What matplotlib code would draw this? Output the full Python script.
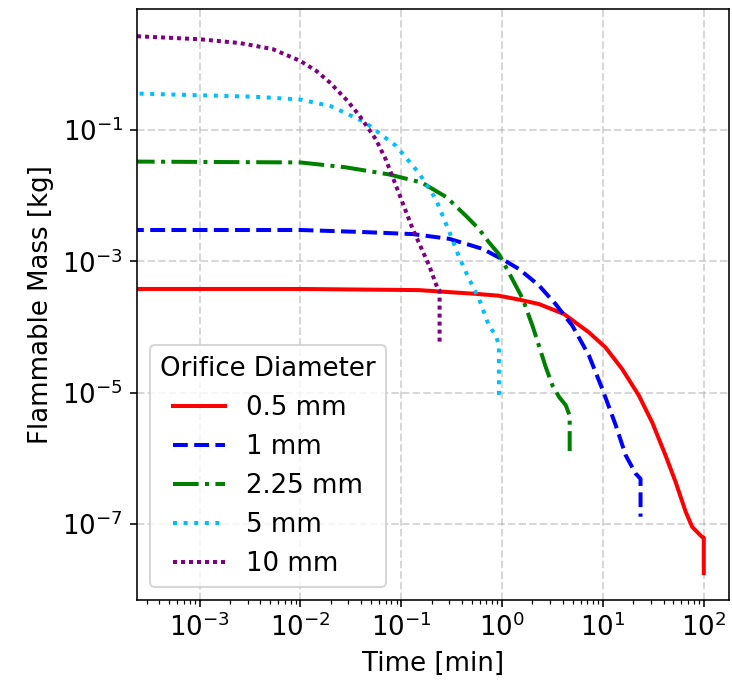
import numpy as np
import matplotlib
matplotlib.use("Agg")
import matplotlib.pyplot as plt
from matplotlib import ticker

# Flammable mass vs time for several orifice diameters
t_05 = [2e-4, 1e-2, 0.15, 0.55, 0.93, 1.5, 2.32, 4.11, 7.26, 10.6, 15.5, 22.7, 30.9, 41.7,
        52.5, 66.1, 76.7, 95.0, 100.0, 100.0]
m_05 = [3.8e-4, 3.8e-4, 3.65e-4, 3.2e-4, 3.0e-4, 2.6e-4, 2.24e-4, 1.58e-4, 8.3e-5, 4.9e-5,
        2.3e-5, 9.1e-6, 3.5e-6, 1.12e-6, 4.4e-7, 1.55e-7, 9.1e-8, 6.5e-8, 6.2e-8, 1.8e-8]

t_1 = [2e-4, 1e-2, 0.04, 0.13, 0.3, 0.64, 1.07, 1.48, 2.32, 3.39, 4.97, 7.26, 9.84, 13.4,
       16.8, 21.1, 23.6, 23.6]
m_1 = [3.0e-3, 3.0e-3, 2.8e-3, 2.6e-3, 2.2e-3, 1.55e-3, 1.02e-3, 7.6e-4, 4.3e-4, 2.24e-4,
       1.05e-4, 3.7e-5, 1.15e-5, 3.2e-6, 1.12e-6, 5.9e-7, 4.9e-7, 1.3e-7]

t_225 = [2e-4, 1e-2, 0.028, 0.076, 0.16, 0.28, 0.44, 0.59, 0.74, 0.93, 1.26, 1.6, 2.0,
         2.32, 2.7, 3.16, 3.7, 4.27, 4.68, 4.68]
m_225 = [0.033, 0.032, 0.027, 0.021, 0.0158, 0.0095, 4.9e-3, 3.1e-3, 1.95e-3, 1.29e-3,
         5.4e-4, 2.7e-4, 1.05e-4, 5.2e-5, 2.5e-5, 1.29e-5, 8.5e-6, 6.5e-6, 4.5e-6, 1.3e-6]

t_5 = [2e-4, 3.5e-3, 1e-2, 0.02, 0.044, 0.089, 0.15, 0.22, 0.30, 0.37, 0.47, 0.59, 0.74,
       0.87, 0.93, 0.93]
m_5 = [0.36, 0.32, 0.29, 0.23, 0.13, 0.057, 0.022, 8.9e-3, 2.8e-3, 1.22e-3, 5.4e-4, 2.7e-4,
       1.05e-4, 7.4e-5, 5.2e-5, 9.1e-6]

t_10 = [2e-4, 1e-3, 2.5e-3, 5.3e-3, 1e-2, 0.0144, 0.0195, 0.0285, 0.038, 0.056, 0.070,
        0.089, 0.13, 0.19, 0.23, 0.24, 0.24]
m_10 = [2.7, 2.4, 2.1, 1.7, 1.12, 0.79, 0.53, 0.29, 0.17, 0.072, 0.036, 0.014, 3.1e-3,
        8.5e-4, 3.8e-4, 3.6e-4, 5.5e-5]

labels = ["0.5 mm", "1 mm", "2.25 mm", "5 mm", "10 mm"]
y_ticks = [1e-7, 1e-5, 1e-3, 1e-1]

plt.rcParams["font.size"] = 13

fig = plt.figure(figsize=(732 / 144, 683 / 144), dpi=144)
ax = fig.add_axes([137 / 732, 1 - 600 / 683, (729 - 137) / 732, (600 - 9) / 683])

ax.plot(t_05, m_05, color="red", linestyle="-", linewidth=2, label=labels[0])
ax.plot(t_1, m_1, color="blue", linestyle="--", linewidth=2, label=labels[1])
ax.plot(t_225, m_225, color="green", linestyle="-.", linewidth=2, label=labels[2])
ax.plot(t_5, m_5, color="deepskyblue", linestyle=":", linewidth=2, label=labels[3])
ax.plot(t_10, m_10, color="purple", linestyle=(0, (1, 1)), linewidth=2, label=labels[4])

ax.set_xscale("log")
ax.set_yscale("log")
ax.set_xlim(10 ** -3.62, 10 ** 2.25)
ax.yaxis.set_major_locator(ticker.FixedLocator(y_ticks))
ax.yaxis.set_major_formatter(ticker.LogFormatterSciNotation())
ax.yaxis.set_minor_locator(ticker.NullLocator())

ax.set_xlabel("Time [min]")
ax.set_ylabel("Flammable Mass [kg]")
ax.grid(True, which="major", linestyle="--", linewidth=1, alpha=0.5)
ax.legend(title="Orifice Diameter", loc="lower left")

plt.savefig("out.png", dpi=144)
